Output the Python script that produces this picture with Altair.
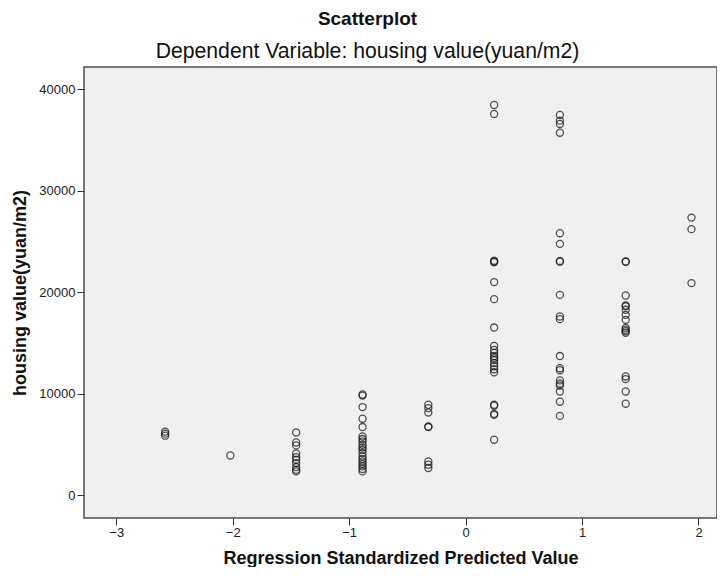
import altair as alt
import pandas as pd

# Regression standardized predicted values (discrete columns)
x_levels = [-2.58, -2.02, -1.455, -0.885, -0.32, 0.245, 0.81, 1.375, 1.94]

# housing value (yuan/m2) observed in each column
col_1 = [6250, 6050, 5850]
col_2 = [3900]
col_3 = [6170, 5180, 4890, 4100, 3740, 3480, 3150, 2760, 2490, 2330]
col_4 = [9910, 9800, 8670, 7520, 6700, 5770, 5520, 5280, 4960, 4690, 4460,
         4140, 3800, 3550, 3310, 3050, 2820, 2560, 2330]
col_5 = [8900, 8570, 8140, 6750, 6700, 3310, 2990, 2660]
col_6 = [38450, 37570, 23100, 23020, 22950, 20990, 19310, 16510, 14700, 14300,
         14000, 13700, 13500, 13300, 13000, 12700, 12400, 12100, 8900, 8800,
         8000, 7900, 5450]
col_7 = [37470, 36910, 36580, 35720, 25810, 24760, 23080, 23000, 19730, 17600,
         17340, 13700, 12500, 12300, 11300, 11000, 10800, 10200, 9200, 7800]
col_8 = [23020, 23000, 19670, 18680, 18600, 18260, 17760, 17270, 16480, 16300,
         16150, 15990, 11690, 11430, 10210, 9000]
col_9 = [27350, 26210, 20890]

columns = [col_1, col_2, col_3, col_4, col_5, col_6, col_7, col_8, col_9]

x_ticks = [-3, -2, -1, 0, 1, 2]
y_ticks = [0, 10000, 20000, 30000, 40000]

rows = []
for xv, vals in zip(x_levels, columns):
    for v in vals:
        rows.append({"pred": xv, "value": v})
df = pd.DataFrame(rows)

FONT = "Liberation Sans"

chart = alt.Chart(df).mark_point(
    shape="circle", filled=False, size=50, strokeWidth=1.3,
    color="#1a1a1a", opacity=0.75
).encode(
    x=alt.X("pred:Q",
            scale=alt.Scale(domain=[-3.277, 2.159], nice=False, zero=False),
            axis=alt.Axis(values=x_ticks, format="d", grid=False, domain=False,
                          tickSize=7, tickColor="#333", tickWidth=1,
                          labelFontSize=13, labelColor="#222", labelPadding=1,
                          labelFont=FONT,
                          title="Regression Standardized Predicted Value",
                          titleFont=FONT, titleFontSize=18, titleFontWeight="bold",
                          titleColor="#111", titlePadding=10)),
    y=alt.Y("value:Q",
            scale=alt.Scale(domain=[-2266, 42197], nice=False, zero=False),
            axis=alt.Axis(values=y_ticks, format="d", grid=False, domain=False,
                          tickSize=7, tickColor="#333", tickWidth=1,
                          labelFontSize=13, labelColor="#222", labelPadding=2,
                          labelFont=FONT,
                          title="housing value(yuan/m2)",
                          titleFont=FONT, titleFontSize=18, titleFontWeight="bold",
                          titleColor="#111", titlePadding=9)),
).properties(
    width=633,
    height=451,
    background="white",
    title=alt.TitleParams(
        text="Scatterplot",
        subtitle="Dependent Variable: housing value(yuan/m2)",
        font=FONT, fontSize=19, fontWeight="bold", color="#111",
        subtitleFont=FONT, subtitleFontSize=21.2, subtitleColor="#111",
        subtitleFontWeight="normal",
        subtitlePadding=12, offset=5, anchor="middle", dx=-33,
    ),
    autosize=alt.AutoSizeParams(type="none"),
    padding={"left": 76, "top": 59, "right": 0, "bottom": 49},
).configure_view(
    fill="#F0F0F0", stroke="#4d4d4d", strokeWidth=1.5
)

chart.save("out.html", embed_options={"renderer": "svg", "actions": False})
